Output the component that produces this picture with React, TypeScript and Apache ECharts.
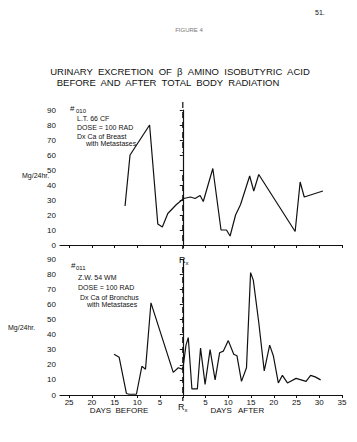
import React, { useEffect, useRef } from 'react';
import * as echarts from 'echarts';

// Patient #010 (top panel): day relative to treatment, mg / 24 hr
const topDays = [-12.7, -11.6, -7.3, -5.5, -4.5, -3.3, -1.4, 0.2, 1.7, 2.7, 3.8, 4.5, 6.6, 8.4, 9.6, 10.4, 11.6, 12.7, 14.7, 15.6, 16.7, 24.7, 25.8, 26.7, 30.8];
const topValues = [26, 60, 80, 14, 12, 21, 27, 31, 32, 31, 33, 29, 51, 10, 10, 6, 20, 27, 46, 36, 47, 9, 42, 32, 36];

// Patient #011 (bottom panel)
const bottomDays = [-15.1, -14, -12.4, -11.8, -10.2, -9, -8.2, -7, -2.1, -1, 0, 0.7, 1.2, 2, 3.2, 3.9, 4.9, 6, 7.1, 8.1, 8.9, 10, 11.2, 11.9, 12.9, 14, 14.9, 15.5, 16.7, 17.9, 19.1, 19.9, 21, 21.9, 23, 24.9, 27.1, 28.1, 29.1, 30.3];
const bottomValues = [27, 25, 1, 0.5, 0.5, 19, 17, 61, 15, 18, 17, 33, 38, 4, 4, 31, 7, 30, 10, 28, 29, 36, 27, 26, 9, 18, 81, 76, 48, 16, 33, 26, 8, 13, 8, 11, 9, 13, 12, 10];

const xTickDays = [-25, -20, -15, -10, -5, 0, 5, 10, 15, 20, 25, 30, 35];
const xLabelDays = [-25, -20, -15, -10, -5, 5, 10, 15, 20, 25, 30, 35];
const yTickValues = [0, 10, 20, 30, 40, 50, 60, 70, 80, 90];

const titleLines = ['URINARY  EXCRETION  OF  β  AMINO  ISOBUTYRIC  ACID', 'BEFORE  AND  AFTER  TOTAL  BODY  RADIATION'];
const topNotes = ['L.T. 66 CF', 'DOSE = 100 RAD', 'Dx Ca of Breast', 'with Metastases'];
const bottomNotes = ['Z.W. 54 WM', 'DOSE = 100 RAD', 'Dx Ca of Bronchus', 'with Metastases'];
const yName = 'Mg/24hr.';

const FONT = 'Liberation Sans';
const INK = '#111';

export default function App() {
  const ref = useRef<HTMLDivElement>(null);
  useEffect(() => {
    if (!ref.current) return;
    const chart = echarts.init(ref.current, undefined, { renderer: 'svg' });
    const topData = topDays.map((d, i) => [d, topValues[i]]);
    const bottomData = bottomDays.map((d, i) => [d, bottomValues[i]]);

    const xAxisBase = (gridIndex: number, showLabels: boolean) => ({
      type: 'value',
      gridIndex,
      min: -27,
      max: 35,
      axisLine: { show: true, onZero: false, lineStyle: { color: INK, width: 1.2 } },
      axisTick: { show: true, length: 3, customValues: xTickDays, lineStyle: { color: INK, width: 1 } },
      axisLabel: {
        show: showLabels,
        customValues: xLabelDays,
        formatter: (v: number) => String(Math.abs(v)),
        fontSize: 8,
        fontFamily: FONT,
        color: INK,
        margin: 3,
      },
      splitLine: { show: false },
    });
    const yAxisBase = (gridIndex: number) => ({
      type: 'value',
      gridIndex,
      min: 0,
      max: 90,
      interval: 10,
      axisLine: { show: true, lineStyle: { color: INK, width: 1.2 } },
      axisTick: { show: true, length: 3, lineStyle: { color: INK } },
      axisLabel: { fontSize: 8, fontFamily: FONT, color: INK, margin: 4, customValues: yTickValues },
      splitLine: { show: false },
    });

    chart.setOption({
      animation: false,
      backgroundColor: '#fff',
      grid: [
        { left: 60, width: 282, top: 110, height: 135 },
        { left: 60, width: 282, top: 259, height: 136 },
      ],
      xAxis: [xAxisBase(0, false), xAxisBase(1, true)],
      yAxis: [yAxisBase(0), yAxisBase(1)],
      series: [
        { type: 'line', xAxisIndex: 0, yAxisIndex: 0, data: topData, showSymbol: false, lineStyle: { color: INK, width: 1.2 } },
        { type: 'line', xAxisIndex: 1, yAxisIndex: 1, data: bottomData, showSymbol: false, lineStyle: { color: INK, width: 1.2 } },
      ],
    });

    const x0 = chart.convertToPixel({ xAxisIndex: 0 }, 0) as number;
    const xBefore = chart.convertToPixel({ xAxisIndex: 1 }, -14) as number;
    const xAfter = chart.convertToPixel({ xAxisIndex: 1 }, 12) as number;
    const dashed = { stroke: INK, lineWidth: 1.2, lineDash: [6, 4] };
    const txt = (x: number, y: number, text: string, size: number, extra: any = {}) => ({
      type: 'text',
      x,
      y,
      style: { text, fontSize: size, fontFamily: FONT, fill: INK, textVerticalAlign: 'middle', ...extra },
    });
    const rx = (x: number, y: number) => ({
      type: 'text',
      x,
      y,
      style: {
        text: '{r|R}{s|x}',
        textAlign: 'center',
        textVerticalAlign: 'middle',
        fill: INK,
        rich: {
          r: { fontSize: 9, fontFamily: FONT, fill: INK },
          s: { fontSize: 6, fontFamily: FONT, fill: INK, padding: [5, 0, 0, 0] },
        },
      },
    });

    const graphic: any[] = [
      txt(315, 12, '51.', 7),
      txt(189, 30, 'FIGURE 4', 6, { textAlign: 'center', fill: '#777' }),
      txt(180, 71, titleLines[0], 9.5, { textAlign: 'center' }),
      txt(168, 82, titleLines[1], 9.5, { textAlign: 'center' }),
      txt(22, 175, yName, 7),
      txt(8, 327, yName, 7),
      // top panel notes
      txt(70, 108, '#', 8),
      txt(76, 111, '010', 6),
      txt(77, 118, topNotes[0], 7),
      txt(77, 127, topNotes[1], 7),
      txt(77, 136, topNotes[2], 7),
      txt(86, 143, topNotes[3], 7),
      // bottom panel notes
      txt(71, 265, '#', 8),
      txt(76, 268, '011', 6),
      txt(78, 277, bottomNotes[0], 7),
      txt(78, 287, bottomNotes[1], 7),
      txt(80, 297, bottomNotes[2], 7),
      txt(87, 304, bottomNotes[3], 7),
      // dashed treatment line at day 0
      { type: 'line', shape: { x1: x0, y1: 102, x2: x0, y2: 153 }, style: dashed },
      { type: 'line', shape: { x1: x0, y1: 175, x2: x0, y2: 249 }, style: dashed },
      { type: 'line', shape: { x1: x0, y1: 267, x2: x0, y2: 401 }, style: dashed },
      rx(x0 + 1, 260),
      rx(x0, 407),
      txt(xBefore, 410, 'DAYS  BEFORE', 8, { textAlign: 'center' }),
      txt(xAfter, 410, 'DAYS   AFTER', 8, { textAlign: 'center' }),
    ];
    chart.setOption({ graphic });

    return () => chart.dispose();
  }, []);
  return <div ref={ref} style={{ position: 'fixed', left: 0, top: 0, width: 357, height: 442, background: '#fff' }} />;
}
